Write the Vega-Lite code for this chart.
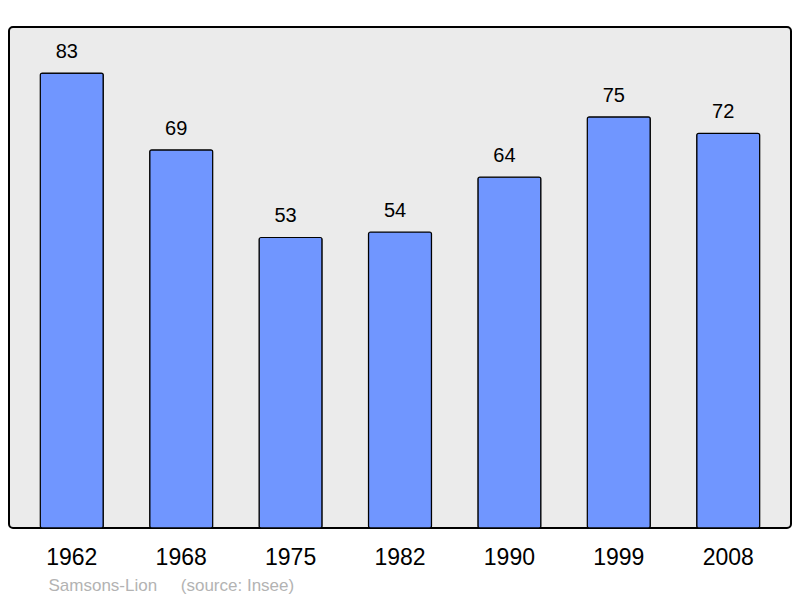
{
  "$schema": "https://vega.github.io/schema/vega-lite/v6.json",
  "width": 782,
  "height": 501,
  "autosize": {"type": "none"},
  "padding": {"left": 9, "top": 27, "right": 9, "bottom": 70},
  "background": "white",
  "config": {
    "font": "Liberation Sans",
    "view": {"stroke": "black", "strokeWidth": 2, "fill": "#ebebeb", "cornerRadius": 4}
  },
  "data": {
    "values": [
      {"year": "1962", "pop": 83},
      {"year": "1968", "pop": 69},
      {"year": "1975", "pop": 53},
      {"year": "1982", "pop": 54},
      {"year": "1990", "pop": 64},
      {"year": "1999", "pop": 75},
      {"year": "2008", "pop": 72}
    ]
  },
  "encoding": {
    "x": {
      "field": "year",
      "type": "ordinal",
      "scale": {"paddingInner": 0.424, "paddingOuter": 0.286},
      "axis": {
        "labelAngle": 0,
        "labelFontSize": 23,
        "labelColor": "black",
        "labelPadding": 18,
        "ticks": false,
        "domain": false,
        "title": "Samsons-Lion\u00a0\u00a0\u00a0\u00a0\u00a0(source: Insee)",
        "titleFontSize": 17,
        "titleFontWeight": "normal",
        "titleColor": "#b3b3b3",
        "titleAnchor": "start",
        "titleAlign": "left",
        "titleX": 39,
        "titleY": 62,
        "titleBaseline": "alphabetic"
      }
    },
    "y": {
      "field": "pop",
      "type": "quantitative",
      "scale": {"domain": [0, 91.4], "nice": false},
      "axis": null
    }
  },
  "layer": [
    {
      "mark": {"type": "bar", "color": "#7096ff", "stroke": "black", "strokeWidth": 1.2, "cornerRadius": 2}
    },
    {
      "mark": {"type": "text", "fontSize": 20, "baseline": "alphabetic", "dy": -15, "dx": -5, "color": "black"},
      "encoding": {"text": {"field": "pop", "type": "quantitative"}}
    }
  ]
}
